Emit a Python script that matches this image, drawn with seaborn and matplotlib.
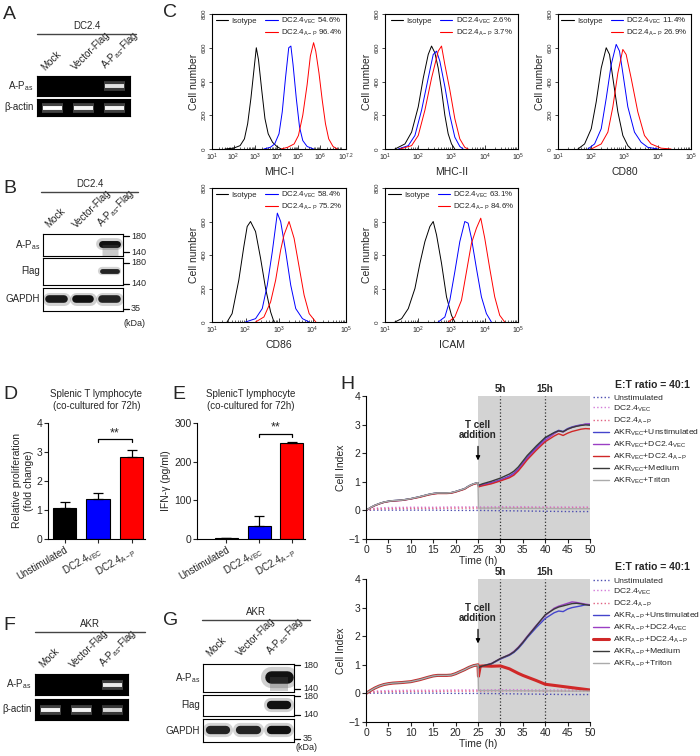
import numpy as np
import seaborn as sns
import matplotlib.pyplot as plt
from matplotlib.lines import Line2D
from matplotlib.ticker import LogLocator, NullFormatter

# ---------------- data ----------------
VEC = r'DC2.4$_{\mathrm{VEC}}$'
AP = r'DC2.4$_{\mathrm{A-P}}$'
lanes = ['Mock', 'Vector-Flag', r'A-P$_{\mathrm{as}}$-Flag']

# A / F : RT-PCR gels, relative band intensity per lane
a_pas_gel = [0.0, 0.0, 0.85]
a_actin_gel = [1.0, 0.95, 0.95]
f_pas_gel = [0.0, 0.0, 0.9]
f_actin_gel = [0.95, 0.95, 0.8]

# B / G : western blots, relative band intensity per lane
b_pas_blot = [0.0, 0.0, 1.0]
b_flag_blot = [0.0, 0.0, 0.9]
b_gapdh_blot = [0.95, 1.0, 0.9]
g_pas_blot = [0.0, 0.0, 1.0]
g_flag_blot = [0.0, 0.0, 1.0]
g_gapdh_blot = [0.9, 0.9, 1.0]

# C : flow cytometry histograms (log10 intensity, cell number)
mhc1_iso = ([1.6, 2.0, 2.3, 2.5, 2.65, 2.8, 2.95, 3.05, 3.15, 3.3, 3.45, 3.6, 3.8, 4.0, 4.2],
            [0, 5, 20, 60, 150, 300, 480, 600, 530, 350, 180, 90, 40, 15, 0])
mhc1_vec = ([3.4, 3.7, 3.9, 4.1, 4.25, 4.4, 4.55, 4.65, 4.75, 4.9, 5.05, 5.2, 5.4, 5.7],
            [0, 10, 30, 90, 220, 420, 600, 610, 500, 300, 130, 50, 15, 0])
mhc1_ap = ([4.2, 4.5, 4.8, 5.0, 5.2, 5.4, 5.55, 5.7, 5.8, 5.95, 6.1, 6.25, 6.4, 6.6, 6.8],
           [0, 10, 30, 80, 200, 380, 550, 630, 580, 450, 290, 150, 60, 15, 0])
mhc2_iso = ([1.3, 1.6, 1.8, 2.0, 2.15, 2.3, 2.4, 2.5, 2.6, 2.7, 2.8, 2.9, 3.0, 3.1],
            [0, 30, 100, 250, 420, 560, 610, 570, 480, 350, 200, 90, 30, 0])
mhc2_vec = ([1.4, 1.7, 1.9, 2.1, 2.3, 2.45, 2.55, 2.65, 2.8, 2.95, 3.1, 3.25, 3.35],
            [0, 20, 80, 230, 420, 560, 580, 520, 370, 200, 70, 15, 0])
mhc2_ap = ([1.45, 1.8, 2.0, 2.2, 2.4, 2.6, 2.7, 2.8, 2.95, 3.1, 3.25, 3.4, 3.5],
           [0, 20, 80, 230, 420, 580, 610, 500, 350, 180, 60, 10, 0])
cd80_iso = ([1.6, 1.8, 2.0, 2.15, 2.3, 2.45, 2.55, 2.65, 2.8, 2.95, 3.1, 3.2],
            [0, 30, 120, 280, 480, 600, 560, 420, 220, 80, 20, 0])
cd80_vec = ([1.9, 2.1, 2.3, 2.45, 2.6, 2.75, 2.85, 2.95, 3.1, 3.3, 3.5, 3.7, 4.0],
            [0, 30, 120, 300, 500, 620, 580, 450, 250, 100, 40, 10, 0])
cd80_ap = ([2.0, 2.3, 2.5, 2.65, 2.8, 2.95, 3.05, 3.2, 3.4, 3.6, 3.8, 4.1, 4.4],
           [0, 30, 100, 250, 450, 590, 560, 420, 220, 80, 30, 5, 0])
cd86_iso = ([1.45, 1.6, 1.8, 1.95, 2.05, 2.15, 2.3, 2.45, 2.6, 2.75, 2.85],
            [0, 50, 250, 450, 570, 600, 540, 380, 200, 60, 0])
cd86_vec = ([2.0, 2.3, 2.5, 2.65, 2.8, 2.95, 3.05, 3.2, 3.35, 3.5, 3.7, 3.9],
            [0, 20, 80, 220, 420, 650, 600, 420, 220, 80, 20, 0])
cd86_ap = ([2.3, 2.55, 2.75, 2.9, 3.05, 3.15, 3.3, 3.45, 3.6, 3.75, 3.9, 4.1],
           [0, 30, 120, 250, 430, 520, 600, 500, 330, 160, 50, 0])
icam_iso = ([1.3, 1.5, 1.7, 1.9, 2.05, 2.2, 2.35, 2.45, 2.55, 2.7, 2.85, 3.0, 3.1],
            [0, 20, 80, 200, 350, 480, 570, 600, 520, 350, 150, 40, 0])
icam_vec = ([2.6, 2.8, 2.95, 3.1, 3.25, 3.4, 3.5, 3.6, 3.75, 3.9, 4.05, 4.2],
            [0, 30, 130, 300, 480, 600, 590, 500, 320, 150, 50, 0])
icam_ap = ([2.9, 3.1, 3.3, 3.45, 3.6, 3.75, 3.88, 4.0, 4.15, 4.3, 4.45, 4.6],
           [0, 30, 130, 300, 470, 560, 620, 500, 320, 150, 40, 0])

# D / E : co-culture bar charts
groups = ['Unstimulated', VEC, AP]
bar_colors = ['black', '#0000ff', '#ff0000']
d_mean = [1.07, 1.38, 2.83]
d_err = [0.22, 0.2, 0.25]
e_mean = [2, 33, 247]
e_err = [1, 27, 5]

# H : real-time cell index
t_ctrl = [0, 2, 5, 10, 15, 20, 25, 30, 35, 40, 45, 50]
ctrl_unstim = [0.0, 0.01, 0.01, 0.01, 0.01, 0.0, 0.0, -0.01, -0.02, -0.03, -0.04, -0.04]
ctrl_vec = [0.0, 0.08, 0.1, 0.11, 0.11, 0.12, 0.12, 0.13, 0.13, 0.12, 0.12, 0.12]
ctrl_ap = [0.0, 0.05, 0.06, 0.07, 0.07, 0.08, 0.08, 0.09, 0.09, 0.08, 0.08, 0.08]

t_h = [0, 1, 2, 3, 4, 5, 6, 8, 10, 12, 14, 15, 16, 18, 19, 20, 22, 23, 24, 25,
       25.1, 25.5, 26, 28, 30, 32, 33, 34, 35, 36, 38, 40, 42, 43, 44, 45, 46, 47, 48, 49, 50]
t_triton = [0, 1, 2, 3, 4, 5, 6, 8, 10, 12, 14, 15, 16, 18, 19, 20, 22, 23, 24, 25,
            25.1, 30, 35, 40, 45, 50]

top_unstim = [0, 0.1, 0.18, 0.24, 0.29, 0.32, 0.34, 0.36, 0.41, 0.48, 0.56, 0.59, 0.61, 0.61, 0.62, 0.66, 0.76, 0.86, 0.93, 0.97,
              0.86, 0.88, 0.9, 0.97, 1.07, 1.2, 1.3, 1.45, 1.65, 1.85, 2.2, 2.52, 2.72, 2.8, 2.76, 2.86, 2.92, 2.96, 2.99, 3.01, 3.0]
top_vec = [0, 0.09, 0.17, 0.23, 0.28, 0.31, 0.33, 0.35, 0.4, 0.47, 0.55, 0.58, 0.6, 0.6, 0.61, 0.65, 0.75, 0.85, 0.92, 0.96,
           0.84, 0.86, 0.88, 0.95, 1.05, 1.17, 1.27, 1.42, 1.62, 1.82, 2.15, 2.45, 2.68, 2.78, 2.74, 2.84, 2.9, 2.95, 2.98, 3.02, 3.03]
top_ap = [0, 0.09, 0.17, 0.23, 0.28, 0.31, 0.33, 0.35, 0.4, 0.46, 0.54, 0.57, 0.59, 0.59, 0.6, 0.64, 0.74, 0.84, 0.91, 0.95,
          0.82, 0.84, 0.86, 0.93, 1.03, 1.14, 1.23, 1.38, 1.57, 1.77, 2.1, 2.4, 2.6, 2.68, 2.62, 2.7, 2.76, 2.8, 2.84, 2.86, 2.85]
top_medium = [0, 0.1, 0.18, 0.24, 0.29, 0.32, 0.34, 0.36, 0.41, 0.48, 0.56, 0.59, 0.61, 0.61, 0.62, 0.66, 0.76, 0.86, 0.93, 0.97,
              0.88, 0.9, 0.93, 1.02, 1.13, 1.27, 1.37, 1.52, 1.72, 1.92, 2.25, 2.55, 2.72, 2.78, 2.75, 2.84, 2.9, 2.94, 2.97, 2.99, 2.98]
top_triton = [0, 0.1, 0.18, 0.24, 0.29, 0.32, 0.34, 0.36, 0.41, 0.48, 0.56, 0.59, 0.61, 0.61, 0.62, 0.66, 0.76, 0.86, 0.93, 0.97,
              0.08, 0.08, 0.07, 0.07, 0.06, 0.06]

bot_unstim = [0, 0.1, 0.19, 0.26, 0.31, 0.34, 0.36, 0.38, 0.41, 0.48, 0.57, 0.61, 0.63, 0.63, 0.64, 0.69, 0.83, 0.91, 0.97, 1.0,
              0.78, 0.92, 0.95, 1.03, 1.2, 1.33, 1.43, 1.57, 1.75, 1.95, 2.3, 2.62, 2.82, 2.88, 2.86, 2.95, 3.0, 3.03, 3.06, 3.1, 3.1]
bot_vec = [0, 0.1, 0.19, 0.26, 0.31, 0.34, 0.36, 0.38, 0.41, 0.48, 0.57, 0.61, 0.63, 0.63, 0.64, 0.69, 0.83, 0.91, 0.97, 1.0,
           0.85, 0.93, 0.96, 1.05, 1.22, 1.36, 1.47, 1.62, 1.8, 2.0, 2.38, 2.72, 2.98, 3.05, 3.1, 3.15, 3.2, 3.18, 3.15, 3.12, 3.1]
bot_ap = [0, 0.1, 0.19, 0.26, 0.31, 0.34, 0.36, 0.38, 0.41, 0.48, 0.57, 0.61, 0.63, 0.63, 0.64, 0.69, 0.83, 0.91, 0.97, 1.0,
          0.6, 0.95, 0.96, 0.95, 0.96, 0.86, 0.78, 0.7, 0.63, 0.57, 0.45, 0.32, 0.28, 0.26, 0.24, 0.22, 0.2, 0.18, 0.16, 0.14, 0.12]
bot_medium = [0, 0.1, 0.19, 0.26, 0.31, 0.34, 0.36, 0.38, 0.41, 0.48, 0.57, 0.61, 0.63, 0.63, 0.64, 0.69, 0.83, 0.91, 0.97, 1.0,
              0.88, 0.93, 0.96, 1.04, 1.22, 1.35, 1.45, 1.6, 1.78, 1.98, 2.36, 2.75, 2.95, 3.02, 3.06, 3.1, 3.14, 3.15, 3.13, 3.1, 3.08]
bot_triton = [0, 0.1, 0.19, 0.26, 0.31, 0.34, 0.36, 0.38, 0.41, 0.48, 0.57, 0.61, 0.63, 0.63, 0.64, 0.69, 0.83, 0.91, 0.97, 1.0,
              0.1, 0.1, 0.09, 0.09, 0.08, 0.08]

# ---------------- style ----------------
sns.set_style('ticks')
plt.rcParams['font.family'] = ['Liberation Sans', 'DejaVu Sans']
plt.rcParams['mathtext.fontset'] = 'custom'
plt.rcParams['mathtext.rm'] = 'Liberation Sans'
plt.rcParams['mathtext.it'] = 'Liberation Sans:italic'
plt.rcParams['mathtext.bf'] = 'Liberation Sans:bold'
plt.rcParams['axes.linewidth'] = 0.8
plt.rcParams['axes.edgecolor'] = 'black'

W, H = 700, 756
fig = plt.figure(figsize=(7, 7.56), dpi=100)


def box(x0, y0, x1, y1):
    return fig.add_axes([x0 / W, 1 - y1 / H, (x1 - x0) / W, (y1 - y0) / H])


def ftext(x, y, s, **kw):
    fig.text(x / W, 1 - y / H, s, **kw)


def header(x0, x1, y, s):
    fig.add_artist(Line2D([x0 / W, x1 / W], [1 - y / H, 1 - y / H], color='#444', lw=1))
    ftext((x0 + x1) / 2, y - 3, s, ha='center', va='bottom', fontsize=7)


def bare(ax, face):
    ax.set_facecolor(face)
    ax.set_xlim(-0.5, 2.5)
    ax.set_ylim(-1, 1)
    ax.set_xticks([])
    ax.set_yticks([])


def gel_row(ax, vals, name):
    bare(ax, 'black')
    for i, v in enumerate(vals):
        if v > 0:
            ax.plot([i - 0.34, i + 0.34], [0, 0], color='#999', lw=7, alpha=0.45 * v, solid_capstyle='butt')
            ax.plot([i - 0.3, i + 0.3], [0, 0], color='white', lw=2.8, alpha=v, solid_capstyle='butt')
    ax.text(-0.62, 0, name, ha='right', va='center', fontsize=7)


def blot_row(ax, vals, name, lw, smear=0):
    bare(ax, 'white')
    for i, v in enumerate(vals):
        if v > 0:
            ax.plot([i - 0.27, i + 0.27], [0.05, 0.05], color='#666', lw=lw * 1.7, alpha=0.3 * v, solid_capstyle='round')
            ax.plot([i - 0.27, i + 0.27], [0.05, 0.05], color='#111', lw=lw, alpha=v, solid_capstyle='round')
            if smear:
                ax.plot([i - 0.3, i + 0.3], [-0.45, -0.45], color='#555', lw=smear, alpha=0.3 * v, solid_capstyle='butt')
    ax.text(-0.6, 0, name, ha='right', va='center', fontsize=7)


def marker(ax, y, s):
    ax.plot([1.0, 1.07], [y, y], transform=ax.transAxes, color='black', lw=0.9, clip_on=False)
    ax.text(1.1, y, s, transform=ax.transAxes, ha='left', va='center', fontsize=6.5)


def lane_labels(ax):
    tr = ax.get_xaxis_transform()
    for i, s in enumerate(lanes):
        ax.text(i - 0.2, 1.2, s, transform=tr, rotation=45, rotation_mode='anchor',
                ha='left', va='bottom', fontsize=7)


def histo(ax, curves, xmax, xlabel, pcts):
    for (xs, ys), col in zip(curves, ['black', 'blue', 'red']):
        sns.lineplot(x=10 ** np.array(xs), y=ys, ax=ax, color=col, lw=0.7, estimator=None, sort=False)
    ax.set_xscale('log')
    ax.set_xlim(10, 10 ** xmax)
    ax.set_ylim(0, 800)
    top = int(xmax) if xmax == int(xmax) else int(xmax) - 1
    majors = [10 ** k for k in range(1, top + 1)]
    labels = [r'$10^{%d}$' % k for k in range(1, top + 1)]
    if xmax > int(xmax):
        majors.append(10 ** xmax)
        labels.append(r'$10^{%.1f}$' % xmax)
    ax.set_xticks(majors)
    ax.set_xticklabels(labels, fontsize=5)
    ax.xaxis.set_minor_locator(LogLocator(base=10, subs=range(2, 10), numticks=20))
    ax.xaxis.set_minor_formatter(NullFormatter())
    ax.tick_params(axis='x', which='major', direction='in', length=3, width=0.6, pad=2)
    ax.tick_params(axis='x', which='minor', direction='in', length=1.8, width=0.5)
    ax.set_yticks([0, 200, 400, 600, 800])
    ax.set_yticklabels(['0', '200', '400', '600', '800'], rotation=90, va='center', fontsize=4.5)
    ax.tick_params(axis='y', direction='out', length=2.5, width=0.6, pad=1.5)
    ax.set_xlabel(xlabel, fontsize=7.5, labelpad=3)
    ax.set_ylabel('Cell number', fontsize=7.5, labelpad=2)
    for sp in ax.spines.values():
        sp.set_visible(True)
        sp.set_linewidth(0.8)
    handles = [Line2D([], [], color='black', lw=0.8), Line2D([], [], lw=0),
               Line2D([], [], color='blue', lw=0.8), Line2D([], [], color='red', lw=0.8)]
    names = ['Isotype', '', VEC + ' ' + pcts[0], AP + ' ' + pcts[1]]
    ax.legend(handles, names, ncol=2, loc='upper center', bbox_to_anchor=(0.5, 1.02), frameon=False,
              fontsize=5.7, handlelength=1.6, handletextpad=0.4, columnspacing=1.0, labelspacing=0.2,
              borderaxespad=0.2)


def bars(ax, mean, err, ylim, yticks, ylabel, title, sig_y, sig_h):
    sns.barplot(x=groups, y=mean, hue=groups, palette=bar_colors, legend=False, ax=ax,
                width=0.7, edgecolor='black', linewidth=0.8, saturation=1)
    ax.errorbar(range(3), mean, yerr=[[0, 0, 0], err], fmt='none', ecolor='black',
                elinewidth=0.9, capsize=3.5, capthick=0.9)
    ax.set_ylim(*ylim)
    ax.set_yticks(yticks)
    ax.tick_params(axis='y', labelsize=7.5, length=3, width=0.8, pad=1)
    ax.tick_params(axis='x', labelsize=7, length=3, width=0.8, pad=1)
    plt.setp(ax.get_xticklabels(), rotation=30, ha='right', rotation_mode='anchor')
    ax.set_ylabel(ylabel, fontsize=7.5, labelpad=2)
    ax.set_title(title, fontsize=7, pad=10, linespacing=1.3)
    ax.plot([1, 1, 2, 2], [sig_y - sig_h, sig_y, sig_y, sig_y - sig_h], color='black', lw=0.9)
    ax.text(1.5, sig_y, '**', ha='center', va='bottom', fontsize=9)
    sns.despine(ax=ax)


def cell_index(ax, series, prefix, thick_ap=False):
    ax.axvspan(25, 50, color='#d3d3d3', lw=0, zorder=0)
    ax.axvline(30, ls=':', color='#333', lw=0.9, zorder=1)
    ax.axvline(40, ls=':', color='#333', lw=0.9, zorder=1)
    ctrl = [('Unstimulated', ctrl_unstim, '#4b4bb0'), (VEC, ctrl_vec, '#d37ad8'), (AP, ctrl_ap, '#e06080')]
    for name, vals, col in ctrl:
        sns.lineplot(x=t_ctrl, y=vals, ax=ax, color=col, ls=':', lw=1.0, label=name, estimator=None)
    unstim, vec, ap, medium, triton = series
    solid = [(prefix + '+Unstimulated', t_h, unstim, '#4545cc', 1.0),
             (prefix + '+' + VEC, t_h, vec, '#9b3fc4', 1.0),
             (prefix + '+' + AP, t_h, ap, '#d02828', 2.2 if thick_ap else 1.0),
             (prefix + '+Medium', t_h, medium, '#3a3a3a', 1.0),
             (prefix + '+Triton', t_triton, triton, '#ababab', 1.0)]
    for name, t, vals, col, lw in solid:
        sns.lineplot(x=t, y=vals, ax=ax, color=col, lw=lw, label=name, estimator=None, sort=False)
    ax.set_xlim(0, 50)
    ax.set_ylim(-1, 4)
    ax.set_xticks(range(0, 51, 5))
    ax.set_yticks(range(-1, 5))
    ax.tick_params(labelsize=7.5, length=3, width=0.8, pad=1)
    ax.set_xlabel('Time (h)', fontsize=7.5, labelpad=1)
    ax.set_ylabel('Cell Index', fontsize=7.5, labelpad=2)
    ax.text(30, 4.08, '5h', ha='center', va='bottom', fontsize=7, weight='bold')
    ax.text(40, 4.08, '15h', ha='center', va='bottom', fontsize=7, weight='bold')
    ax.annotate('T cell\naddition', xy=(25, 1.65), xytext=(25, 2.45), ha='center', va='bottom',
                fontsize=7, weight='bold', linespacing=1.1,
                arrowprops=dict(arrowstyle='-|>', color='black', lw=0.9, mutation_scale=6))
    sns.despine(ax=ax)
    ax.legend(loc='upper left', bbox_to_anchor=(1.0, 1.04), frameon=False, fontsize=6.1,
              handlelength=1.8, handletextpad=0.5, labelspacing=0.22, borderaxespad=0.0)


# ---------------- panel letters ----------------
for s, x, y in [('A', 3, 6), ('B', 3, 180), ('C', 163, 4), ('D', 3, 386), ('E', 172, 386),
                ('F', 3, 617), ('G', 163, 612), ('H', 340, 376)]:
    ftext(x, y, s, fontsize=14, va='top', ha='left')

# ---------------- A ----------------
header(37, 136, 34, 'DC2.4')
ax = box(37, 76, 130, 96)
gel_row(ax, a_pas_gel, r'A-P$_{\mathrm{as}}$')
lane_labels(ax)
ax = box(37, 99, 130, 116)
gel_row(ax, a_actin_gel, 'β-actin')

# ---------------- B ----------------
header(41, 138, 192, 'DC2.4')
ax = box(43, 234, 123, 256)
blot_row(ax, b_pas_blot, r'A-P$_{\mathrm{as}}$', 5, smear=8)
lane_labels(ax)
marker(ax, 0.9, '180')
marker(ax, 0.18, '140')
ax = box(43, 258, 123, 285)
blot_row(ax, b_flag_blot, 'Flag', 3.5)
marker(ax, 0.82, '180')
marker(ax, 0.05, '140')
ax = box(43, 288, 123, 311)
blot_row(ax, b_gapdh_blot, 'GAPDH', 5.5)
marker(ax, 0.1, '35')
ftext(124, 324, '(kDa)', fontsize=6.5, ha='left', va='center')

# ---------------- C ----------------
histo(box(212, 14, 346, 149), [mhc1_iso, mhc1_vec, mhc1_ap], 7.2, 'MHC-I', ['54.6%', '96.4%'])
histo(box(385, 14, 518, 149), [mhc2_iso, mhc2_vec, mhc2_ap], 5, 'MHC-II', ['2.6%', '3.7%'])
histo(box(558, 14, 691, 149), [cd80_iso, cd80_vec, cd80_ap], 5, 'CD80', ['11.4%', '26.9%'])
histo(box(212, 188, 346, 322), [cd86_iso, cd86_vec, cd86_ap], 5, 'CD86', ['58.4%', '75.2%'])
histo(box(385, 188, 518, 322), [icam_iso, icam_vec, icam_ap], 5, 'ICAM', ['63.1%', '84.6%'])

# ---------------- D / E ----------------
ax = box(48, 423, 145, 539)
bars(ax, d_mean, d_err, (0, 4), [0, 1, 2, 3, 4], 'Relative proliferation\n(fold change)',
     'Splenic T lymphocyte\n(co-cultured for 72h)', 3.45, 0.12)
ax.set_xlim(-0.5, 2.4)
ax = box(197, 423, 305, 539)
bars(ax, e_mean, e_err, (0, 300), [0, 100, 200, 300], 'IFN-γ (pg/ml)',
     'SplenicT lymphocyte\n(co-cultured for 72h)', 272, 9)
ax.set_xlim(-0.9, 2.4)

# ---------------- F ----------------
header(35, 145, 632, 'AKR')
ax = box(35, 674, 128, 695)
gel_row(ax, f_pas_gel, r'A-P$_{\mathrm{as}}$')
lane_labels(ax)
ax = box(35, 699, 128, 720)
gel_row(ax, f_actin_gel, 'β-actin')

# ---------------- G ----------------
header(202, 310, 620, 'AKR')
ax = box(203, 664, 294, 692)
blot_row(ax, g_pas_blot, r'A-P$_{\mathrm{as}}$', 9, smear=10)
lane_labels(ax)
marker(ax, 0.95, '180')
marker(ax, 0.12, '140')
ax = box(203, 695, 294, 716)
blot_row(ax, g_flag_blot, 'Flag', 6)
marker(ax, 0.95, '180')
marker(ax, 0.05, '140')
ax = box(203, 719, 294, 742)
blot_row(ax, g_gapdh_blot, 'GAPDH', 6)
marker(ax, 0.15, '35')
ftext(296, 748, '(kDa)', fontsize=6.5, ha='left', va='center')

# ---------------- H ----------------
cell_index(box(366, 396, 590, 539), [top_unstim, top_vec, top_ap, top_medium, top_triton],
           r'AKR$_{\mathrm{VEC}}$')
ftext(615, 385, 'E:T ratio = 40:1', fontsize=7.5, weight='bold', ha='left', va='center')
cell_index(box(366, 579, 590, 722), [bot_unstim, bot_vec, bot_ap, bot_medium, bot_triton],
           r'AKR$_{\mathrm{A-P}}$', thick_ap=True)
ftext(615, 567, 'E:T ratio = 40:1', fontsize=7.5, weight='bold', ha='left', va='center')

fig.savefig('out.png', dpi=100)
